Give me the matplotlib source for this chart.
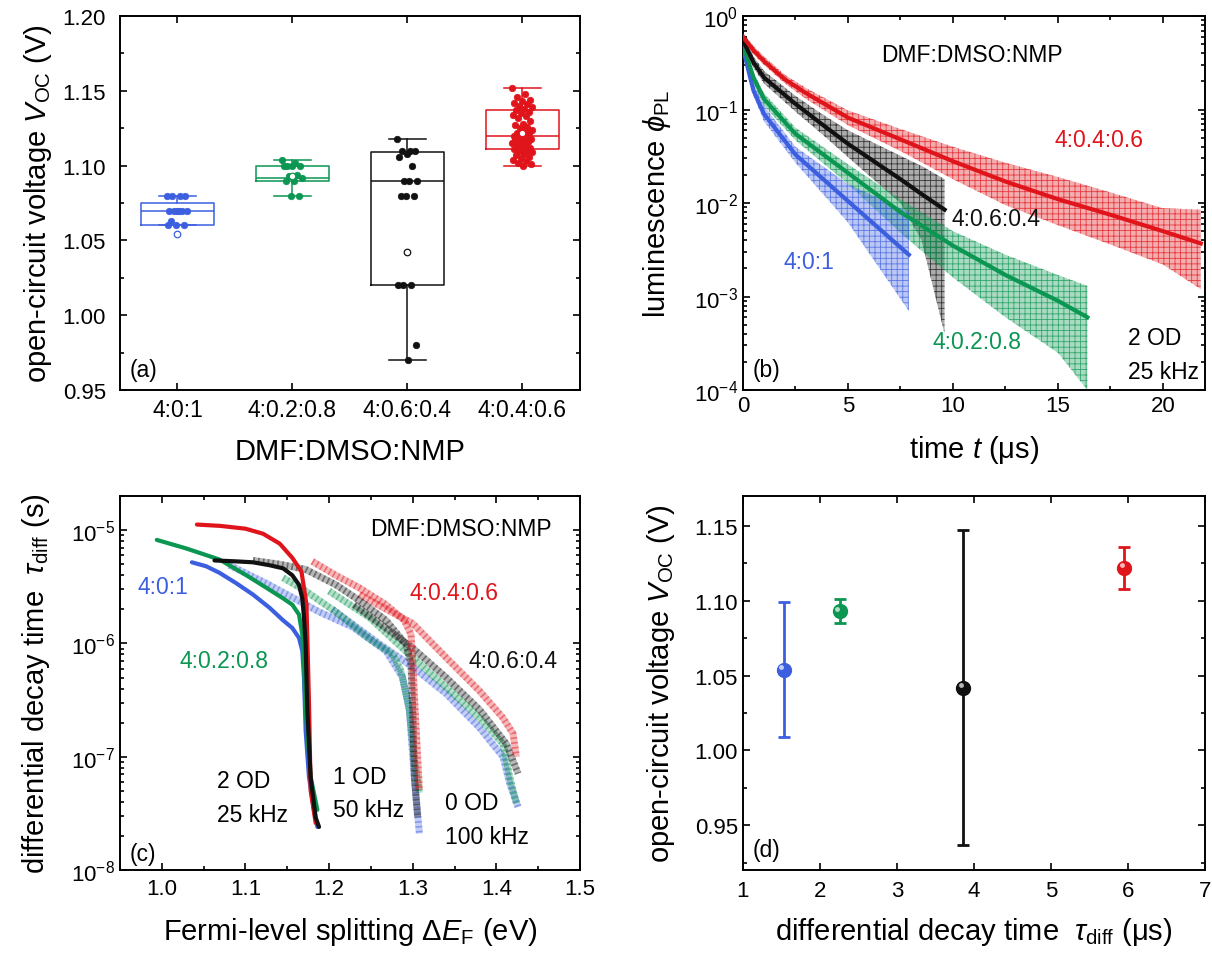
import numpy as np
import matplotlib
matplotlib.use('Agg')
import matplotlib.pyplot as plt
from matplotlib import transforms
from matplotlib.colors import to_rgba
from matplotlib.ticker import MultipleLocator, LogLocator, NullFormatter

plt.rcParams['font.family'] = ['Liberation Sans', 'DejaVu Sans']
plt.rcParams['mathtext.fontset'] = 'custom'
plt.rcParams['mathtext.rm'] = 'Liberation Sans'
plt.rcParams['mathtext.it'] = 'Liberation Sans:italic'
plt.rcParams['mathtext.bf'] = 'Liberation Sans:bold'
plt.rcParams['hatch.linewidth'] = 0.6

# Colores de cada mezcla de disolventes
AZUL = '#3c5fe0'
VERDE = '#0b9652'
NEGRO = '#111111'
ROJO = '#e0141b'

# ---------------- (a) Voc por mezcla ----------------
muestras = ['4:0:1', '4:0.2:0.8', '4:0.6:0.4', '4:0.4:0.6']
voc_q1 = [1.060, 1.090, 1.020, 1.111]
voc_med = [1.070, 1.092, 1.090, 1.120]
voc_q3 = [1.075, 1.100, 1.109, 1.137]
voc_min = [1.060, 1.080, 0.970, 1.100]
voc_max = [1.080, 1.104, 1.118, 1.152]

voc_azul = [1.080, 1.080, 1.080, 1.080, 1.070, 1.070, 1.070, 1.070, 1.070, 1.070,
            1.063, 1.060, 1.060, 1.060]
voc_verde = [1.104, 1.102, 1.100, 1.100, 1.100, 1.100, 1.094, 1.093, 1.092, 1.090,
             1.090, 1.080, 1.080]
voc_negro = [1.118, 1.110, 1.110, 1.110, 1.108, 1.106, 1.100, 1.090, 1.090, 1.090,
             1.080, 1.080, 1.080, 1.020, 1.020, 1.020, 0.980, 0.970]
voc_rojo = [1.152, 1.148, 1.146, 1.144, 1.143, 1.142, 1.141, 1.140, 1.139, 1.138,
            1.137, 1.136, 1.135, 1.134, 1.133, 1.132, 1.130, 1.128, 1.127, 1.126,
            1.125, 1.124, 1.123, 1.122, 1.122, 1.121, 1.120, 1.120, 1.119, 1.118,
            1.117, 1.117, 1.116, 1.115, 1.115, 1.114, 1.113, 1.112, 1.112, 1.111,
            1.110, 1.110, 1.109, 1.108, 1.107, 1.106, 1.105, 1.104, 1.103, 1.102,
            1.101, 1.100]

# ---------------- (b) transitorios de PL ----------------
t_azul_b = [0, 0.5, 1, 2.5, 5, 7.9]
pl_azul_fit = [0.45, 0.16, 0.09, 0.033, 0.0105, 0.0028]
pl_azul_max = [0.52, 0.19, 0.11, 0.040, 0.016, 0.008]
pl_azul_min = [0.40, 0.14, 0.075, 0.027, 0.0062, 0.0007]

t_verde_b = [0, 0.5, 1, 2.5, 5, 7.5, 10, 12.5, 15, 16.4]
pl_verde_fit = [0.50, 0.22, 0.13, 0.055, 0.021, 0.0080, 0.0035, 0.0017, 0.0009, 0.0006]
pl_verde_max = [0.56, 0.25, 0.15, 0.064, 0.026, 0.011, 0.0050, 0.0028, 0.0017, 0.0013]
pl_verde_min = [0.45, 0.19, 0.11, 0.047, 0.016, 0.0048, 0.0016, 0.0006, 0.00025, 0.0001]

t_negro_b = [0, 0.5, 1, 2.5, 3.75, 5, 7.5, 8.5, 9.6]
pl_negro_fit = [0.55, 0.32, 0.22, 0.115, 0.070, 0.043, 0.018, 0.0125, 0.0085]
pl_negro_max = [0.62, 0.37, 0.26, 0.14, 0.090, 0.060, 0.032, 0.025, 0.018]
pl_negro_min = [0.48, 0.28, 0.19, 0.095, 0.055, 0.031, 0.010, 0.004, 0.0004]

t_rojo_b = [0, 0.5, 1, 2, 3, 5, 7.5, 10, 12.5, 15, 17.5, 20, 21.8]
pl_rojo_fit = [0.60, 0.43, 0.33, 0.21, 0.15, 0.082, 0.048, 0.028, 0.017, 0.011, 0.0075, 0.0050, 0.0037]
pl_rojo_max = [0.66, 0.48, 0.37, 0.235, 0.17, 0.098, 0.062, 0.040, 0.027, 0.019, 0.013, 0.0088, 0.0085]
pl_rojo_min = [0.54, 0.39, 0.30, 0.19, 0.13, 0.068, 0.036, 0.018, 0.0095, 0.0058, 0.0036, 0.0022, 0.0012]

# ---------------- (c) tau_diff frente a Delta E_F ----------------
# 2 OD, 25 kHz (líneas continuas)
e_2od_azul = [1.036, 1.053, 1.069, 1.089, 1.109, 1.129, 1.145, 1.156, 1.164, 1.168,
              1.170, 1.172, 1.176, 1.182, 1.186]
t_2od_azul = [5.2e-6, 4.8e-6, 4.2e-6, 3.4e-6, 2.7e-6, 2.06e-6, 1.6e-6, 1.37e-6, 1.12e-6, 8.6e-7,
              5.0e-7, 1.7e-7, 6.6e-8, 3.4e-8, 2.4e-8]
e_2od_verde = [0.994, 1.029, 1.069, 1.101, 1.125, 1.145, 1.156, 1.164, 1.168, 1.170,
               1.172, 1.178, 1.186]
t_2od_verde = [8.2e-6, 6.9e-6, 5.5e-6, 4.0e-6, 3.1e-6, 2.5e-6, 2.2e-6, 1.8e-6, 1.2e-6, 6.6e-7,
               2.6e-7, 6.6e-8, 3.4e-8]
e_2od_negro = [1.063, 1.089, 1.109, 1.129, 1.145, 1.156, 1.164, 1.168, 1.170, 1.172,
               1.174, 1.178, 1.184, 1.188]
t_2od_negro = [5.4e-6, 5.3e-6, 5.2e-6, 4.9e-6, 4.6e-6, 4.0e-6, 3.3e-6, 2.5e-6, 1.7e-6, 9.8e-7,
               2.6e-7, 6.6e-8, 2.9e-8, 2.4e-8]
e_2od_rojo = [1.042, 1.070, 1.100, 1.121, 1.141, 1.156, 1.167, 1.170, 1.173, 1.176, 1.178, 1.184]
t_2od_rojo = [1.12e-5, 1.09e-5, 1.03e-5, 9.3e-6, 7.6e-6, 5.7e-6, 4.3e-6, 3.1e-6, 2.2e-6, 3e-7,
              5e-8, 2.6e-8]
# 1 OD, 50 kHz
e_1od_azul = [1.081, 1.128, 1.188, 1.228, 1.268, 1.288, 1.296, 1.302, 1.308]
t_1od_azul = [4.9e-6, 3.3e-6, 1.9e-6, 1.4e-6, 8.6e-7, 5.0e-7, 2.6e-7, 6.6e-8, 2.1e-8]
e_1od_verde = [1.145, 1.172, 1.208, 1.248, 1.276, 1.286, 1.296, 1.302, 1.308]
t_1od_verde = [3.8e-6, 2.9e-6, 1.9e-6, 1.1e-6, 8.0e-7, 5.7e-7, 2.6e-7, 9.3e-8, 4.8e-8]
e_1od_negro = [1.109, 1.141, 1.172, 1.208, 1.236, 1.268, 1.292, 1.298, 1.300, 1.302, 1.306]
t_1od_negro = [5.4e-6, 5.0e-6, 4.5e-6, 3.3e-6, 2.4e-6, 1.6e-6, 9.8e-7, 6.6e-7, 2.6e-7, 6.6e-8, 2.9e-8]
e_1od_rojo = [1.180, 1.208, 1.236, 1.268, 1.290, 1.298, 1.300, 1.304, 1.308]
t_1od_rojo = [5.3e-6, 4.0e-6, 3.1e-6, 2.2e-6, 1.6e-6, 1.2e-6, 7.0e-7, 1.8e-7, 5.1e-8]
# 0 OD, 100 kHz
e_0od_azul = [1.204, 1.261, 1.300, 1.340, 1.380, 1.408, 1.416, 1.426]
t_0od_azul = [2.0e-6, 9.8e-7, 6.2e-7, 3.6e-7, 1.8e-7, 1.0e-7, 5.8e-8, 3.6e-8]
e_0od_verde = [1.200, 1.248, 1.300, 1.340, 1.380, 1.408, 1.416, 1.424]
t_0od_verde = [2.9e-6, 1.7e-6, 7.5e-7, 4.1e-7, 2.2e-7, 1.3e-7, 6.6e-8, 3.9e-8]
e_0od_negro = [1.230, 1.300, 1.340, 1.380, 1.412, 1.426]
t_0od_negro = [2.2e-6, 9.1e-7, 5.0e-7, 2.6e-7, 1.3e-7, 7.1e-8]
e_0od_rojo = [1.236, 1.300, 1.340, 1.380, 1.408, 1.420, 1.424]
t_0od_rojo = [2.7e-6, 1.5e-6, 7.5e-7, 3.8e-7, 2.2e-7, 1.6e-7, 1.0e-7]

# ---------------- (d) Voc frente a tau_diff ----------------
tau_diff = [1.53, 2.26, 3.86, 5.95]
voc_d = [1.054, 1.093, 1.042, 1.122]
voc_err = [0.045, 0.008, 0.105, 0.014]

colores = [AZUL, VERDE, NEGRO, ROJO]
puntos_a = [voc_azul, voc_verde, voc_negro, voc_rojo]

FS_TICK = 16
FS_LABEL = 21
FS_TEXT = 16.5


def estilo_ejes(ax):
    '''Ejes al estilo Origin: marco grueso y ticks hacia dentro en los cuatro lados.'''
    for sp in ax.spines.values():
        sp.set_linewidth(1.4)
    ax.tick_params(which='both', direction='in', top=True, right=True,
                   width=1.2, labelsize=FS_TICK)
    ax.tick_params(which='major', length=5)
    ax.tick_params(which='minor', length=3)


def texto(ax, x, y, s, color='black', **kw):
    ax.text(x, y, s, transform=ax.transAxes, color=color, fontsize=FS_TEXT,
            va='center', ha='left', **kw)


def reparto(n, ancho):
    # desplazamiento horizontal determinista para separar los puntos
    return ancho * 2 * (((np.arange(n) * 0.618034) % 1) - 0.5)


fig = plt.figure(figsize=(12.12, 9.54), dpi=100)
ax_a = fig.add_axes([0.0990, 0.5901, 0.3795, 0.3920])
ax_b = fig.add_axes([0.6130, 0.5901, 0.3812, 0.3920])
ax_c = fig.add_axes([0.0990, 0.0870, 0.3795, 0.3920])
ax_d = fig.add_axes([0.6130, 0.0870, 0.3812, 0.3920])

# ---- (a) ----
pos = np.arange(1, len(muestras) + 1)
stats = [dict(med=voc_med[i], q1=voc_q1[i], q3=voc_q3[i], whislo=voc_min[i],
              whishi=voc_max[i], fliers=[]) for i in range(len(muestras))]
for i in range(len(muestras)):
    c = colores[i]
    ax_a.bxp([stats[i]], positions=[pos[i]], widths=0.63, capwidths=0.32,
             showfliers=False, manage_ticks=False,
             boxprops=dict(color=c, lw=1.1), medianprops=dict(color=c, lw=1.1),
             whiskerprops=dict(color=c, lw=1.1), capprops=dict(color=c, lw=1.1))
    v = puntos_a[i]
    ax_a.scatter(pos[i] + reparto(len(v), 0.09), v, s=22, color=c,
                 edgecolor=c, linewidth=0.5, zorder=3)
    # círculo abierto: valor representado en (d)
    ax_a.scatter([pos[i]], [voc_d[i]], s=22, facecolor='white', edgecolor=c,
                 linewidth=0.9, zorder=4)
ax_a.set_xlim(0.5, 4.5)
ax_a.set_ylim(0.95, 1.20)
ax_a.set_xticks(pos)
ax_a.set_xticklabels(muestras)
ax_a.yaxis.set_major_locator(MultipleLocator(0.05))
ax_a.yaxis.set_minor_locator(MultipleLocator(0.025))
ax_a.yaxis.set_major_formatter(plt.FormatStrFormatter('%.2f'))
ax_a.set_xlabel('DMF:DMSO:NMP', fontsize=FS_LABEL, labelpad=11)
ax_a.set_ylabel(r'open-circuit voltage $V_\mathrm{OC}$ (V)', fontsize=FS_LABEL, labelpad=6)
estilo_ejes(ax_a)
ax_a.tick_params(axis='y', pad=10)
ax_a.tick_params(axis='x', pad=6, labelsize=16.5)
ax_a.tick_params(axis='x', which='minor', bottom=False, top=False)
texto(ax_a, 0.022, 0.056, '(a)')

# ---- (b) ----
series_b = [(t_rojo_b, pl_rojo_fit, pl_rojo_min, pl_rojo_max, ROJO),
            (t_negro_b, pl_negro_fit, pl_negro_min, pl_negro_max, NEGRO),
            (t_verde_b, pl_verde_fit, pl_verde_min, pl_verde_max, VERDE),
            (t_azul_b, pl_azul_fit, pl_azul_min, pl_azul_max, AZUL)]
for t, fit, lo, hi, c in series_b:
    ax_b.fill_between(t, lo, hi, facecolor=to_rgba(c, 0.35),
                      edgecolor=to_rgba(c, 0.75), hatch='+++', lw=0)
for t, fit, lo, hi, c in series_b[::-1]:
    ax_b.plot(t, fit, color=c, lw=3, zorder=5)
ax_b.set_yscale('log')
ax_b.set_xlim(0, 22)
ax_b.set_ylim(1e-4, 1)
ax_b.xaxis.set_major_locator(MultipleLocator(5))
ax_b.xaxis.set_minor_locator(MultipleLocator(2.5))
ax_b.yaxis.set_major_locator(LogLocator(base=10, numticks=10))
ax_b.yaxis.set_minor_locator(LogLocator(base=10, subs=np.arange(2, 10), numticks=20))
ax_b.yaxis.set_minor_formatter(NullFormatter())
ax_b.set_xlabel(r'time $t$ (μs)', fontsize=FS_LABEL, labelpad=12)
ax_b.set_ylabel(r'luminescence $\phi_\mathrm{PL}$', fontsize=FS_LABEL, labelpad=15)
estilo_ejes(ax_b)
texto(ax_b, 0.300, 0.898, 'DMF:DMSO:NMP')
texto(ax_b, 0.675, 0.671, '4:0.4:0.6', ROJO)
texto(ax_b, 0.452, 0.460, '4:0.6:0.4', NEGRO)
texto(ax_b, 0.087, 0.345, '4:0:1', AZUL)
texto(ax_b, 0.411, 0.131, '4:0.2:0.8', VERDE)
texto(ax_b, 0.833, 0.094, '2 OD\n25 kHz', linespacing=1.6)
texto(ax_b, 0.022, 0.056, '(b)')

# ---- (c) ----
def curva_rayada(ax, x, y, c):
    ax.plot(x, y, color=c, lw=5, alpha=0.3, solid_capstyle='butt')
    ax.plot(x, y, color=c, lw=5, alpha=0.45, ls=(0, (0.25, 0.45)))


for e, t, c in [(e_0od_azul, t_0od_azul, AZUL), (e_0od_verde, t_0od_verde, VERDE),
                (e_0od_negro, t_0od_negro, NEGRO), (e_0od_rojo, t_0od_rojo, ROJO),
                (e_1od_azul, t_1od_azul, AZUL), (e_1od_verde, t_1od_verde, VERDE),
                (e_1od_negro, t_1od_negro, NEGRO), (e_1od_rojo, t_1od_rojo, ROJO)]:
    curva_rayada(ax_c, e, t, c)
for e, t, c in [(e_2od_azul, t_2od_azul, AZUL), (e_2od_verde, t_2od_verde, VERDE),
                (e_2od_rojo, t_2od_rojo, ROJO), (e_2od_negro, t_2od_negro, NEGRO)]:
    ax_c.plot(e, t, color=c, lw=3, solid_capstyle='round', solid_joinstyle='round')
ax_c.set_yscale('log')
ax_c.set_xlim(0.95, 1.5)
ax_c.set_ylim(1e-8, 2e-5)
ax_c.xaxis.set_major_locator(MultipleLocator(0.1))
ax_c.xaxis.set_minor_locator(MultipleLocator(0.05))
ax_c.xaxis.set_major_formatter(plt.FormatStrFormatter('%.1f'))
ax_c.yaxis.set_major_locator(LogLocator(base=10, numticks=10))
ax_c.yaxis.set_minor_locator(LogLocator(base=10, subs=np.arange(2, 10), numticks=20))
ax_c.yaxis.set_minor_formatter(NullFormatter())
ax_c.set_xlabel(r'Fermi-level splitting $\Delta E_\mathrm{F}$ (eV)', fontsize=FS_LABEL, labelpad=11)
ax_c.set_ylabel(r'differential decay time  $\tau_\mathrm{diff}$ (s)', fontsize=FS_LABEL, labelpad=14)
estilo_ejes(ax_c)
ax_c.tick_params(axis='x', pad=6)
texto(ax_c, 0.543, 0.912, 'DMF:DMSO:NMP')
texto(ax_c, 0.037, 0.759, '4:0:1', AZUL)
texto(ax_c, 0.130, 0.559, '4:0.2:0.8', VERDE)
texto(ax_c, 0.630, 0.743, '4:0.4:0.6', ROJO)
texto(ax_c, 0.757, 0.559, '4:0.6:0.4', NEGRO)
texto(ax_c, 0.211, 0.193, '2 OD\n25 kHz', linespacing=1.6)
texto(ax_c, 0.463, 0.206, '1 OD\n50 kHz', linespacing=1.6)
texto(ax_c, 0.707, 0.136, '0 OD\n100 kHz', linespacing=1.6)
texto(ax_c, 0.022, 0.043, '(c)')

# ---- (d) ----
brillo = ax_d.transData + transforms.ScaledTranslation(-1.8 / 72, 1.8 / 72, fig.dpi_scale_trans)
for i in range(len(tau_diff)):
    c = colores[i]
    ax_d.errorbar([tau_diff[i]], [voc_d[i]], yerr=[voc_err[i]], fmt='o', ms=10,
                  color=c, ecolor=c, elinewidth=2, capsize=4, capthick=2, zorder=3)
    ax_d.plot([tau_diff[i]], [voc_d[i]], 'o', ms=3.5, color='white', alpha=0.7,
              mec='none', transform=brillo, zorder=4)
ax_d.set_xlim(1, 7)
ax_d.set_ylim(0.92, 1.17)
ax_d.xaxis.set_major_locator(MultipleLocator(1))
ax_d.yaxis.set_major_locator(MultipleLocator(0.05))
ax_d.yaxis.set_minor_locator(MultipleLocator(0.025))
ax_d.yaxis.set_major_formatter(plt.FormatStrFormatter('%.2f'))
ax_d.set_xlabel(r'differential decay time  $\tau_\mathrm{diff}$ (μs)', fontsize=FS_LABEL, labelpad=10)
ax_d.set_ylabel(r'open-circuit voltage $V_\mathrm{OC}$ (V)', fontsize=FS_LABEL, labelpad=13)
estilo_ejes(ax_d)
ax_d.tick_params(axis='x', pad=7)
texto(ax_d, 0.022, 0.056, '(d)')

fig.savefig('out.png', dpi=100)
